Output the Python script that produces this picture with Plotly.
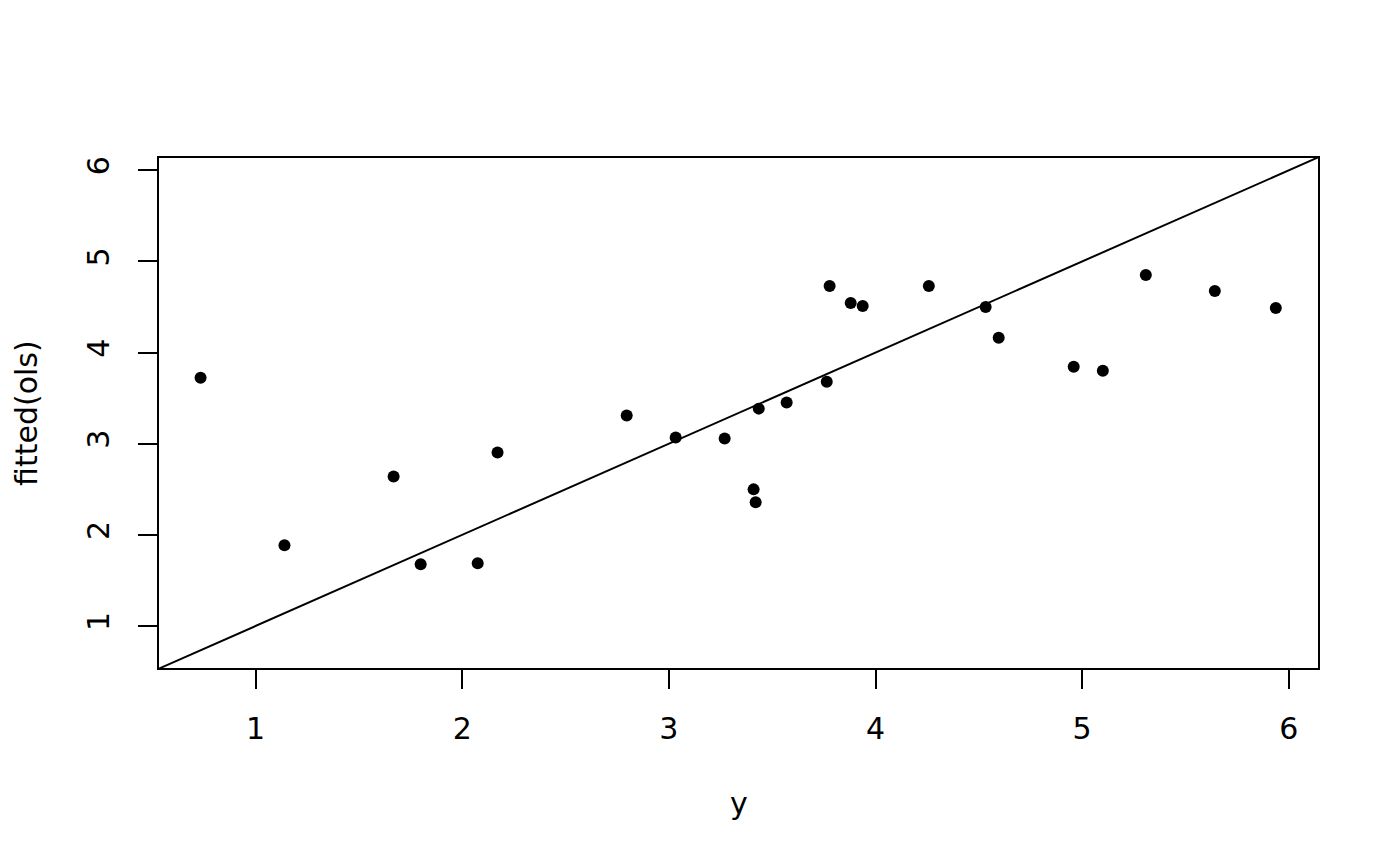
import plotly.graph_objects as go

# observed y vs fitted values from the OLS model
y_obs = [0.734, 1.140, 1.668, 1.799, 2.075, 2.171, 2.796, 3.033, 3.270, 3.410,
         3.420, 3.435, 3.570, 3.764, 3.778, 3.880, 3.938, 4.258, 4.533, 4.596,
         4.959, 5.100, 5.308, 5.642, 5.937]
fitted = [3.724, 1.886, 2.641, 1.678, 1.689, 2.904, 3.309, 3.068, 3.057, 2.499,
          2.357, 3.385, 3.451, 3.681, 4.731, 4.545, 4.512, 4.731, 4.501, 4.162,
          3.845, 3.801, 4.851, 4.676, 4.490]

tick_vals = [1, 2, 3, 4, 5, 6]
tick_text = ["1", "2", "3", "4", "5", "6"]

# same limits on both axes, so the 45 degree line runs corner to corner
axis_range = [0.528, 6.146]

font_family = "DejaVu Sans"
font_size = 30

fig = go.Figure()

# abline(0, 1)
fig.add_trace(go.Scatter(
    x=axis_range, y=axis_range,
    mode="lines",
    line=dict(color="black", width=2),
    hoverinfo="skip",
    showlegend=False,
))

fig.add_trace(go.Scatter(
    x=y_obs, y=fitted,
    mode="markers",
    marker=dict(color="black", size=12),
    showlegend=False,
))

axis_style = dict(
    range=axis_range,
    tickvals=tick_vals,
    ticktext=tick_text,
    ticks="outside",
    ticklen=19,
    tickwidth=2,
    tickcolor="black",
    showgrid=False,
    zeroline=False,
    showline=False,
    tickfont=dict(family=font_family, size=font_size, color="black"),
)

fig.update_xaxes(**axis_style, ticklabelstandoff=14)
fig.update_yaxes(**axis_style, ticklabelstandoff=17, tickangle=-90)

# plot box
fig.add_shape(type="rect", xref="paper", yref="paper", x0=0, y0=0, x1=1, y1=1,
              line=dict(color="black", width=2))

fig.add_annotation(text="y", xref="paper", yref="paper", x=0.5, y=0,
                   yanchor="middle", yshift=-134, showarrow=False,
                   font=dict(family=font_family, size=font_size, color="black"))
fig.add_annotation(text="fitted(ols)", xref="paper", yref="paper", x=0, y=0.5,
                   xanchor="center", xshift=-132, textangle=-90, showarrow=False,
                   borderpad=0,
                   font=dict(family=font_family, size=font_size, color="black"))

# page body has an 8px margin, so the figure is 8px smaller than the window
fig.update_layout(
    width=1392,
    height=858,
    margin=dict(l=150, r=81, t=149, b=197),
    plot_bgcolor="white",
    paper_bgcolor="white",
    font=dict(family=font_family),
)

fig.write_html("out.html")
